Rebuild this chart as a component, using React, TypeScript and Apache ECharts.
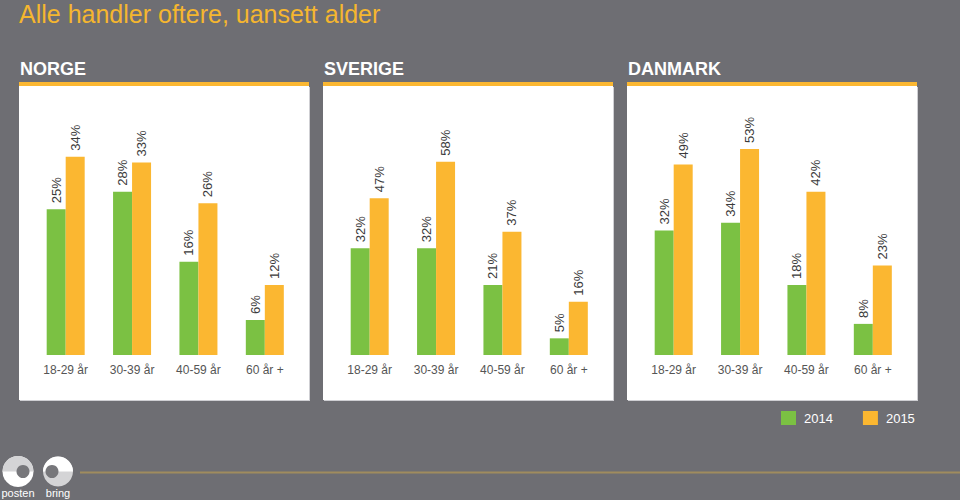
import React, { useEffect, useRef } from "react";
import * as echarts from "echarts";

const title = "Alle handler oftere, uansett alder";
const countries = ["NORGE", "SVERIGE", "DANMARK"];
const categories = ["18-29 år", "30-39 år", "40-59 år", "60 år +"];
const years = ["2014", "2015"];
const norge2014 = [25, 28, 16, 6];
const norge2015 = [34, 33, 26, 12];
const sverige2014 = [32, 32, 21, 5];
const sverige2015 = [47, 58, 37, 16];
const danmark2014 = [32, 34, 18, 8];
const danmark2015 = [49, 53, 42, 23];
const yMax = [36, 63, 54];

const GREEN = "#7bc143";
const ORANGE = "#fbb731";
const BG = "#6e6e73";
const FONT = "'Liberation Sans', Arial, Helvetica, sans-serif";

export default function App() {
  const ref = useRef<HTMLDivElement>(null);

  useEffect(() => {
    if (!ref.current) return;
    const chart = echarts.init(ref.current, undefined, { renderer: "svg" });

    const seriesData = [
      [norge2014, norge2015],
      [sverige2014, sverige2015],
      [danmark2014, danmark2015],
    ];
    const panelLeft = [19, 323, 627];
    const panelW = 290;

    const grids = panelLeft.map((l) => ({
      left: l + 13.5,
      width: 265.5,
      top: 145,
      height: 210,
    }));

    const xAxes = panelLeft.map((_, i) => ({
      type: "category" as const,
      gridIndex: i,
      data: categories,
      z: 5,
      axisLine: { show: false },
      axisTick: { show: false },
      axisLabel: {
        color: "#555555",
        fontSize: 12,
        fontFamily: FONT,
        margin: 9,
        interval: 0,
      },
    }));

    const yAxes = panelLeft.map((_, i) => ({
      type: "value" as const,
      gridIndex: i,
      min: 0,
      max: yMax[i],
      show: false,
      splitLine: { show: false },
    }));

    const series: any[] = [];
    seriesData.forEach((pair, i) => {
      pair.forEach((data, j) => {
        series.push({
          type: "bar",
          name: years[j],
          xAxisIndex: i,
          yAxisIndex: i,
          data,
          z: 5,
          barWidth: 19,
          barGap: "0%",
          itemStyle: { color: j === 0 ? GREEN : ORANGE },
          label: {
            show: true,
            position: "top",
            rotate: 90,
            align: "left",
            verticalAlign: "middle",
            distance: 6,
            formatter: "{c}%",
            color: "#3a3a3a",
            fontSize: 13,
            fontFamily: FONT,
          },
        });
      });
    });

    const graphics: any[] = [];
    panelLeft.forEach((l, i) => {
      graphics.push({
        type: "rect",
        z: 0,
        shape: { x: l + 1, y: 87, width: panelW, height: 314 },
        style: { fill: "#cfcfd3" },
        silent: true,
      });
      graphics.push({
        type: "rect",
        z: 0,
        shape: { x: l, y: 86, width: panelW, height: 314 },
        style: { fill: "#ffffff" },
        silent: true,
      });
      graphics.push({
        type: "rect",
        z: 0,
        shape: { x: l, y: 82, width: panelW, height: 4 },
        style: { fill: ORANGE },
        silent: true,
      });
      graphics.push({
        type: "text",
        z: 0,
        x: l + 1,
        y: 69,
        style: {
          text: countries[i],
          fill: "#ffffff",
          font: `bold 18px ${FONT}`,
          verticalAlign: "middle",
        },
      });
    });

    graphics.push({
      type: "text",
      z: 0,
      x: 19,
      y: 14,
      style: {
        text: title,
        fill: "#f5b62f",
        font: `25px ${FONT}`,
        verticalAlign: "middle",
      },
    });

    graphics.push({
      type: "line",
      z: 0,
      shape: { x1: 80, y1: 472.5, x2: 960, y2: 472.5 },
      style: { stroke: "#a08c5e", lineWidth: 2 },
      silent: true,
    });

    // posten logo
    graphics.push({
      type: "circle",
      z: 0,
      shape: { cx: 18, cy: 471.5, r: 15.5 },
      style: { fill: "#ffffff" },
    });
    graphics.push({
      type: "sector",
      z: 0,
      shape: { cx: 18, cy: 471.5, r: 15.5, r0: 0, startAngle: Math.PI, endAngle: Math.PI * 2 },
      style: { fill: "#d4d4d6" },
    });
    graphics.push({
      type: "circle",
      z: 0,
      shape: { cx: 23, cy: 471.5, r: 6.5 },
      style: { fill: "#77777b" },
    });
    graphics.push({
      type: "text",
      z: 0,
      x: 18,
      y: 493,
      style: {
        text: "posten",
        fill: "#ffffff",
        font: `11px ${FONT}`,
        align: "center",
        verticalAlign: "middle",
      },
    });
    // bring logo
    graphics.push({
      type: "circle",
      z: 0,
      shape: { cx: 58, cy: 471.5, r: 15 },
      style: { fill: "#d4d4d6" },
    });
    graphics.push({
      type: "sector",
      z: 0,
      shape: { cx: 58, cy: 471.5, r: 15, r0: 0, startAngle: Math.PI, endAngle: Math.PI * 2 },
      style: { fill: "#ffffff" },
    });
    graphics.push({
      type: "circle",
      z: 0,
      shape: { cx: 52, cy: 471.5, r: 6.5 },
      style: { fill: "#77777b" },
    });
    graphics.push({
      type: "text",
      z: 0,
      x: 58,
      y: 493,
      style: {
        text: "bring",
        fill: "#ffffff",
        font: `11px ${FONT}`,
        align: "center",
        verticalAlign: "middle",
      },
    });

    chart.setOption({
      animation: false,
      backgroundColor: BG,
      legend: {
        data: years,
        left: 781,
        top: 411,
        padding: 0,
        itemWidth: 15,
        itemHeight: 14,
        itemGap: 30,
        icon: "rect",
        textStyle: { color: "#ffffff", fontSize: 13, fontFamily: FONT, padding: [0, 0, 0, 3] },
        selectedMode: false,
      },
      grid: grids,
      xAxis: xAxes,
      yAxis: yAxes,
      series,
      graphic: { z: 0, zlevel: 0, elements: graphics },
    });

    return () => chart.dispose();
  }, []);

  return (
    <div
      ref={ref}
      style={{ position: "fixed", left: 0, top: 0, width: 960, height: 500 }}
    />
  );
}
